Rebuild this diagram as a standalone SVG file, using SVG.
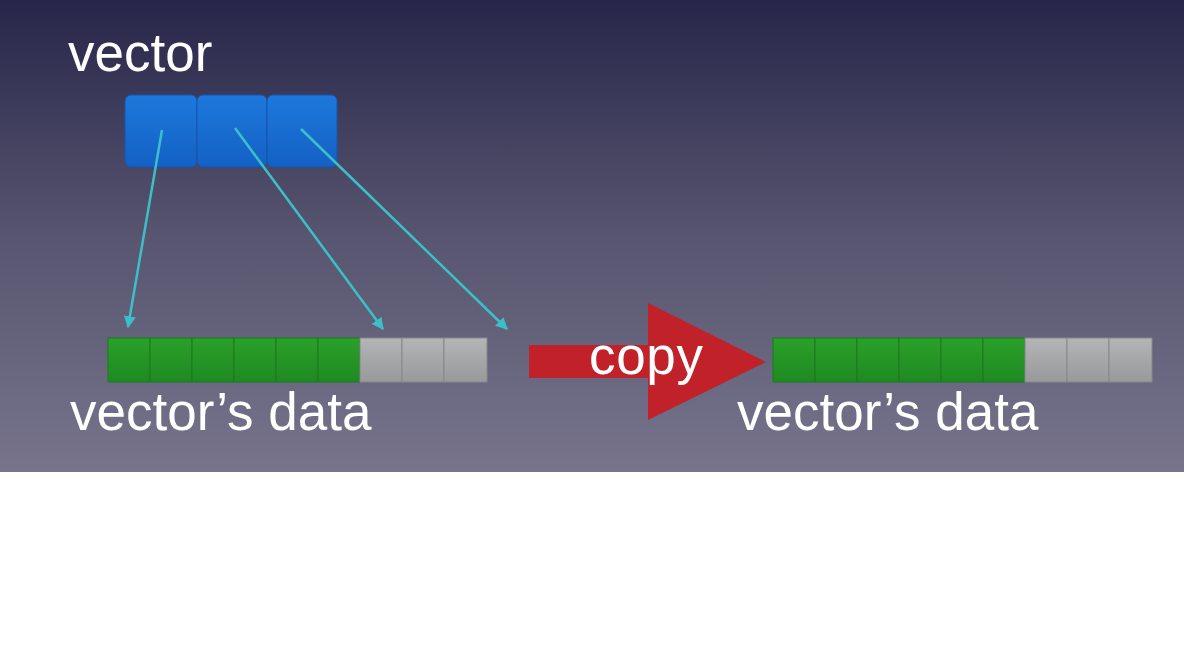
<svg xmlns="http://www.w3.org/2000/svg" width="1184" height="648" viewBox="0 0 1184 648">
<defs>
<linearGradient id="bg" x1="0" y1="0" x2="0" y2="1">
<stop offset="0" stop-color="#27264a"/>
<stop offset="0.5" stop-color="#57556f"/>
<stop offset="1" stop-color="#77748c"/>
</linearGradient>
<linearGradient id="blue" x1="0" y1="0" x2="0" y2="1">
<stop offset="0" stop-color="#1d78dc"/>
<stop offset="1" stop-color="#1461c4"/>
</linearGradient>
<linearGradient id="green" x1="0" y1="0" x2="0" y2="1">
<stop offset="0" stop-color="#2aa02a"/>
<stop offset="1" stop-color="#1f8a22"/>
</linearGradient>
<linearGradient id="grey" x1="0" y1="0" x2="0" y2="1">
<stop offset="0" stop-color="#b4b5b6"/>
<stop offset="1" stop-color="#97999b"/>
</linearGradient>
<marker id="ah" viewBox="0 0 10 10" refX="9" refY="5" markerWidth="12" markerHeight="12" markerUnits="userSpaceOnUse" orient="auto">
<path d="M0,0 L10,5 L0,10 z" fill="#3cc0c8"/>
</marker>
<style>
.t{font-family:"Liberation Sans",Arial,sans-serif;font-size:53px;fill:#ffffff}
.b{fill:url(#blue);stroke:#1555b0;stroke-width:1}
.g{fill:url(#green);stroke:#1a7a1c;stroke-width:1}
.s{fill:url(#grey);stroke:#85878a;stroke-width:1}
.c{stroke:#3cc0c8;stroke-width:2.5;fill:none}
</style>
</defs>
<rect x="0" y="0" width="1184" height="648" fill="#ffffff"/>
<rect x="0" y="0" width="1184" height="472" fill="url(#bg)"/>
<g id="vector-label"><text class="t" x="68" y="71">vector</text></g>
<g id="vector">
<rect class="b" x="125" y="95" width="72" height="72" rx="6"/>
<rect class="b" x="197" y="95" width="70" height="72" rx="6"/>
<rect class="b" x="267" y="95" width="70" height="72" rx="6"/>
</g>
<g id="data1">
<rect class="g" x="108" y="338" width="42" height="44"/>
<rect class="g" x="150" y="338" width="42" height="44"/>
<rect class="g" x="192" y="338" width="42" height="44"/>
<rect class="g" x="234" y="338" width="42" height="44"/>
<rect class="g" x="276" y="338" width="42" height="44"/>
<rect class="g" x="318" y="338" width="42" height="44"/>
<rect class="s" x="360" y="338" width="42" height="44"/>
<rect class="s" x="402" y="338" width="42" height="44"/>
<rect class="s" x="444" y="338" width="43" height="44"/>
<text class="t" x="70" y="430">vector’s data</text>
</g>
<g id="copy-arrow">
<path d="M529,345 L648,345 L648,303 L766,362 L648,420 L648,378 L529,378 z" fill="#c1222a"/>
<text class="t" x="589" y="374" textLength="114">copy</text>
</g>
<g id="data2">
<rect class="g" x="773" y="338" width="42" height="44"/>
<rect class="g" x="815" y="338" width="42" height="44"/>
<rect class="g" x="857" y="338" width="42" height="44"/>
<rect class="g" x="899" y="338" width="42" height="44"/>
<rect class="g" x="941" y="338" width="42" height="44"/>
<rect class="g" x="983" y="338" width="42" height="44"/>
<rect class="s" x="1025" y="338" width="42" height="44"/>
<rect class="s" x="1067" y="338" width="42" height="44"/>
<rect class="s" x="1109" y="338" width="43" height="44"/>
<text class="t" x="737" y="430">vector’s data</text>
</g>
<g id="connectors">
<line class="c" x1="162" y1="130" x2="128" y2="327" marker-end="url(#ah)"/>
<line class="c" x1="235" y1="128" x2="383" y2="329" marker-end="url(#ah)"/>
<line class="c" x1="301" y1="129" x2="507" y2="329" marker-end="url(#ah)"/>
</g>
</svg>
